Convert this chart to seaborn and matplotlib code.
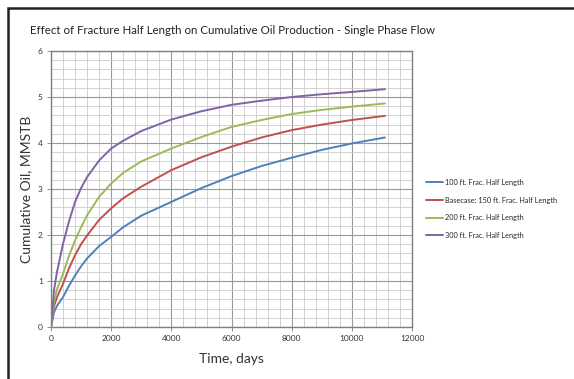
import numpy as np
import pandas as pd
import matplotlib
matplotlib.use("Agg")
import matplotlib.pyplot as plt
import seaborn as sns
from matplotlib.patches import Rectangle
from matplotlib.ticker import MultipleLocator

time_days = [0, 100, 200, 400, 600, 800, 1000, 1200, 1600, 2000, 2400, 3000,
             4000, 5000, 6000, 7000, 8000, 9000, 10000, 11100]
oil_100ft = [0, 0.32, 0.46, 0.65, 0.90, 1.12, 1.32, 1.49, 1.76, 1.96, 2.17, 2.42,
             2.72, 3.02, 3.28, 3.50, 3.68, 3.85, 3.99, 4.12]
oil_150ft = [0, 0.45, 0.65, 0.94, 1.28, 1.56, 1.80, 1.99, 2.33, 2.58, 2.80, 3.05,
             3.41, 3.69, 3.92, 4.12, 4.28, 4.40, 4.50, 4.59]
oil_200ft = [0, 0.56, 0.82, 1.16, 1.55, 1.88, 2.17, 2.43, 2.83, 3.12, 3.35, 3.60,
             3.88, 4.13, 4.35, 4.50, 4.63, 4.72, 4.79, 4.86]
oil_300ft = [0, 0.80, 1.20, 1.81, 2.30, 2.72, 3.02, 3.26, 3.62, 3.88, 4.05, 4.26,
             4.51, 4.69, 4.83, 4.92, 5.00, 5.06, 5.11, 5.17]
series_names = ["100 ft. Frac. Half Length",
                "Basecase: 150 ft. Frac. Half Length",
                "200 ft. Frac. Half Length",
                "300 ft. Frac. Half Length"]
colors = ["#4F81BD", "#C0504D", "#9BBB59", "#8064A2"]

frames = []
for name, vals in zip(series_names, [oil_100ft, oil_150ft, oil_200ft, oil_300ft]):
    frames.append(pd.DataFrame({"Time": time_days, "Oil": vals, "Series": name}))
df = pd.concat(frames, ignore_index=True)

sns.set_theme(style="white")
plt.rcParams['font.family'] = ['Lato', 'DejaVu Sans']

W, H = 574, 379
fig = plt.figure(figsize=(W / 100, H / 100), dpi=100)
ax = fig.add_axes([51 / W, 1 - 327 / H, (412 - 51) / W, (327 - 51) / H])

sns.lineplot(data=df, x="Time", y="Oil", hue="Series", hue_order=series_names,
             palette=colors, linewidth=1.4, ax=ax, legend=True)

ax.set_xlim(0, 12000)
ax.set_ylim(0, 6)
ax.xaxis.set_major_locator(MultipleLocator(2000))
ax.xaxis.set_minor_locator(MultipleLocator(400))
ax.yaxis.set_major_locator(MultipleLocator(1))
ax.yaxis.set_minor_locator(MultipleLocator(0.2))
ax.grid(which="major", color="#999999", linewidth=0.8)
ax.grid(which="minor", color="#cccccc", linewidth=0.6)
ax.set_axisbelow(True)
for s in ax.spines.values():
    s.set_color("#808080")
    s.set_linewidth(1.0)
ax.tick_params(which="major", direction="out", length=3, width=0.6, color="#808080",
               labelsize=6, labelcolor="#333333", pad=3, left=True, bottom=True)
ax.tick_params(which="minor", length=0)
ax.set_xlabel("Time, days", fontsize=10, color="#333333", labelpad=8)
ax.set_ylabel("Cumulative Oil, MMSTB", fontsize=10, color="#333333", labelpad=4)

leg = ax.legend(loc="center left", bbox_to_anchor=(1.02, 0.4275), frameon=False,
                fontsize=5.3, handlelength=2.3, handletextpad=0.3, labelspacing=1.45)
for line in leg.get_lines():
    line.set_linewidth(1.4)

fig.text(30 / W, 1 - 31 / H,
         "Effect of Fracture Half Length on Cumulative Oil Production - Single Phase Flow",
         fontsize=8.3, color="#222222", va="center", ha="left")

fig.patches.append(Rectangle((7.5 / W, -0.05), 1.2, (379 - 7.5) / H + 0.05,
                             transform=fig.transFigure, fill=False,
                             edgecolor="#222222", linewidth=1.8))

fig.savefig("out.png", dpi=100)
